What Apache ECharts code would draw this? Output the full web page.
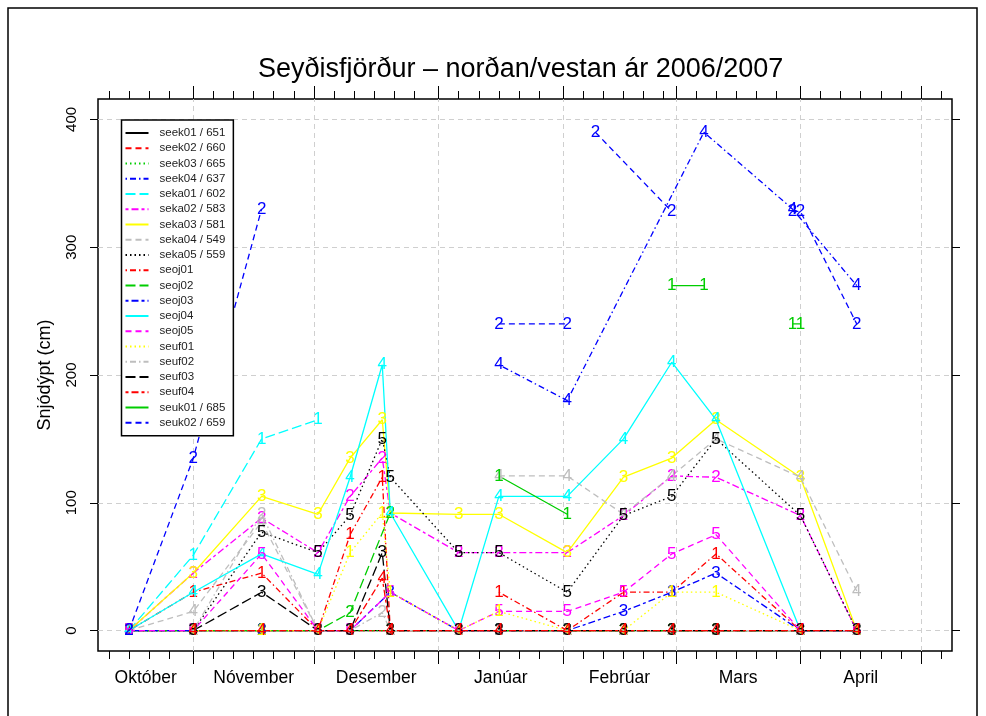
<!DOCTYPE html>
<html><head><meta charset="utf-8">
<script src="https://cdn.jsdelivr.net/npm/echarts@6/dist/echarts.min.js"></script>
<style>html,body{margin:0;padding:0;background:#fff}#c{width:986px;height:716px}</style>
</head><body><div id="c"></div>
<script>
// ---------- data ----------
const titleText = 'Seyðisfjörður – norðan/vestan ár 2006/2007';
const yName = 'Snjódýpt (cm)';
const monthNames = ['Október','Nóvember','Desember','Janúar','Febrúar','Mars','April'];
const monthStarts = ['2006-10-01','2006-11-01','2006-12-01','2007-01-01','2007-02-01','2007-03-01','2007-04-01','2007-05-01','2007-06-01'];
const tickDaysOfMonth = [1,6,11,16,21,26];
const yTicks = [0,100,200,300,400];

const seriesNames = ['seek01 / 651','seek02 / 660','seek03 / 665','seek04 / 637','seka01 / 602','seka02 / 583','seka03 / 581','seka04 / 549','seka05 / 559','seoj01','seoj02','seoj03','seoj04','seoj05','seuf01','seuf02','seuf03','seuf04','seuk01 / 685','seuk02 / 659'];
const pchList = ['1','2','3','4','1','2','3','4','5','1','2','3','4','5','1','2','3','4','1','2'];

const seek01 = [['2006-10-16',0],['2006-11-01',0],['2006-11-18',0],['2006-12-02',0],['2006-12-10',0],['2006-12-20',0],['2007-01-06',0],['2007-01-16',0],['2007-02-02',0],['2007-02-16',0],['2007-02-28',0],['2007-03-11',0],['2007-04-01',0],['2007-04-15',0]];
const seek02 = [['2006-10-16',0],['2006-11-01',0],['2006-11-18',0],['2006-12-02',0],['2006-12-10',0],['2006-12-20',0],['2007-01-06',0],['2007-01-16',0],['2007-02-02',0],['2007-02-16',0],['2007-02-28',0],['2007-03-11',0],['2007-04-01',0],['2007-04-15',0]];
const seek03 = [['2006-10-16',0],['2006-11-01',0],['2006-11-18',0],['2006-12-02',0],['2006-12-10',0],['2006-12-20',0],['2007-01-06',0],['2007-01-16',0],['2007-02-02',0],['2007-02-16',0],['2007-02-28',0],['2007-03-11',0],['2007-04-01',0],['2007-04-15',0]];
const seek04 = [['2007-01-16',208],['2007-02-02',180],['2007-03-08',390],['2007-03-30',330],['2007-04-15',270]];
const seka01 = [['2006-10-16',0],['2006-11-01',59],['2006-11-18',150],['2006-12-02',165]];
const seka02 = [['2006-10-16',0],['2006-11-01',45],['2006-11-18',88],['2006-12-02',61],['2006-12-10',105],['2006-12-18',135],['2006-12-20',92],['2007-01-06',61],['2007-01-16',61],['2007-02-02',61],['2007-02-16',90],['2007-02-28',121],['2007-03-11',120],['2007-04-01',90],['2007-04-15',0]];
const seka03 = [['2006-10-16',0],['2006-11-01',45],['2006-11-18',105],['2006-12-02',91],['2006-12-10',135],['2006-12-18',165],['2006-12-20',92],['2007-01-06',91],['2007-01-16',91],['2007-02-02',61],['2007-02-16',120],['2007-02-28',135],['2007-03-11',165],['2007-04-01',120],['2007-04-15',0]];
const seka04 = [['2006-10-16',0],['2006-11-01',15],['2006-11-18',85],['2006-12-02',0],['2006-12-10',null],['2007-01-16',121],['2007-02-02',121],['2007-02-16',91],['2007-02-28',121],['2007-03-11',150],['2007-04-01',120],['2007-04-15',31]];
const seka05 = [['2006-10-16',0],['2006-11-01',0],['2006-11-18',77],['2006-12-02',61],['2006-12-10',90],['2006-12-18',150],['2006-12-20',120],['2007-01-06',61],['2007-01-16',61],['2007-02-02',30],['2007-02-16',90],['2007-02-28',105],['2007-03-11',150],['2007-04-01',90],['2007-04-15',0]];
const seoj01 = [['2006-10-16',0],['2006-11-01',30],['2006-11-18',45],['2006-12-02',0],['2006-12-10',75],['2006-12-18',120],['2006-12-20',0],['2007-01-06',null],['2007-01-16',30],['2007-02-02',0],['2007-02-16',30],['2007-02-28',30],['2007-03-11',60],['2007-04-01',0],['2007-04-15',0]];
const seoj02 = [['2006-10-16',0],['2006-11-01',0],['2006-11-18',0],['2006-12-02',0],['2006-12-10',14],['2006-12-20',92],['2007-01-06',null],['2007-01-16',0],['2007-02-02',0],['2007-02-16',0],['2007-02-28',0],['2007-03-11',0],['2007-04-01',0],['2007-04-15',0]];
const seoj03 = [['2006-10-16',0],['2006-11-01',0],['2006-11-18',0],['2006-12-02',0],['2006-12-10',0],['2006-12-20',30],['2007-01-06',0],['2007-01-16',0],['2007-02-02',0],['2007-02-16',15],['2007-02-28',30],['2007-03-11',45],['2007-04-01',0],['2007-04-15',0]];
const seoj04 = [['2006-10-16',0],['2006-11-01',30],['2006-11-18',60],['2006-12-02',44],['2006-12-10',120],['2006-12-18',208],['2006-12-20',92],['2007-01-06',0],['2007-01-16',105],['2007-02-02',105],['2007-02-16',150],['2007-02-28',210],['2007-03-11',165],['2007-04-01',0],['2007-04-15',0]];
const seoj05 = [['2006-10-16',0],['2006-11-01',0],['2006-11-18',60],['2006-12-02',0],['2006-12-10',0],['2006-12-20',30],['2007-01-06',0],['2007-01-16',15],['2007-02-02',15],['2007-02-16',30],['2007-02-28',60],['2007-03-11',75],['2007-04-01',0],['2007-04-15',0]];
const seuf01 = [['2006-11-01',0],['2006-11-18',0],['2006-12-02',0],['2006-12-10',61],['2006-12-18',92],['2006-12-20',30],['2007-01-06',0],['2007-01-16',15],['2007-02-02',0],['2007-02-16',0],['2007-02-28',30],['2007-03-11',30],['2007-04-01',0],['2007-04-15',0]];
const seuf02 = [['2006-11-01',0],['2006-11-18',91],['2006-12-02',0],['2006-12-10',0],['2006-12-18',14],['2006-12-20',0],['2007-01-06',0],['2007-01-16',0],['2007-02-02',0],['2007-02-16',0],['2007-02-28',0],['2007-03-11',0],['2007-04-01',0],['2007-04-15',0]];
const seuf03 = [['2006-11-01',0],['2006-11-18',30],['2006-12-02',0],['2006-12-10',0],['2006-12-18',61],['2006-12-20',0],['2007-01-06',0],['2007-01-16',0],['2007-02-02',0],['2007-02-16',0],['2007-02-28',0],['2007-03-11',0],['2007-04-01',0],['2007-04-15',0]];
const seuf04 = [['2006-11-01',0],['2006-11-18',0],['2006-12-02',0],['2006-12-10',0],['2006-12-18',41],['2006-12-20',0],['2007-01-06',0],['2007-01-16',0],['2007-02-02',0],['2007-02-16',0],['2007-02-28',0],['2007-03-11',0],['2007-04-01',0],['2007-04-15',0]];
const seuk01 = [['2007-01-16',121],['2007-02-02',91],['2007-02-16',null],['2007-02-28',270],['2007-03-08',270],['2007-03-11',null],['2007-03-30',240],['2007-04-01',240]];
const seuk02 = [['2006-10-16',0],['2006-11-01',135],['2006-11-18',330],['2006-12-02',null],['2007-01-16',240],['2007-02-02',240],['2007-02-05',null],['2007-02-09',390],['2007-02-28',328],['2007-03-08',null],['2007-03-30',328],['2007-04-01',328],['2007-04-15',240]];

const seriesData = [seek01,seek02,seek03,seek04,seka01,seka02,seka03,seka04,seka05,seoj01,seoj02,seoj03,seoj04,seoj05,seuf01,seuf02,seuf03,seuf04,seuk01,seuk02];

// ---------- styles ----------
const palette = ['#000000','#FF0000','#00CD00','#0000FF','#00FFFF','#FF00FF','#FFFF00','#BEBEBE'];
const ltys = ['solid',[6,4],[1.5,3],[1.5,3,6,3],[10,4],[3,3,7,3]];
const FONT = 'Liberation Sans, Arial, Helvetica, sans-serif';

// ---------- scale helpers ----------
const ORIGIN = Date.parse('2006-10-01T00:00:00Z');
const dayOf = s => Math.round((Date.parse(s + 'T00:00:00Z') - ORIGIN) / 864e5);
const X_MIN = 7.3, X_MAX = 219.7, Y_MIN = -16, Y_MAX = 416;

const startDays = monthStarts.map(dayOf);
const majorTicks = startDays.filter(d => d >= X_MIN && d <= X_MAX);
const minorTicks = [];
startDays.slice(0, -1).forEach(s => tickDaysOfMonth.forEach(dm => {
  const d = s + dm - 1;
  if (d >= X_MIN && d <= X_MAX && dm !== 1) minorTicks.push(d);
}));
const labelPos = monthNames.map((_, i) => (Math.max(startDays[i], X_MIN) + Math.min(startDays[i + 1], X_MAX)) / 2);
const monthFmt = v => {
  let best = 0;
  labelPos.forEach((p, i) => { if (Math.abs(p - v) < Math.abs(labelPos[best] - v)) best = i; });
  return monthNames[best];
};

const gridRect = {left: 98, right: 34, top: 99, bottom: 65};
const tickStyle = {color: '#000', width: 1};

const baseX = (extra) => Object.assign({
  type: 'value', min: X_MIN, max: X_MAX,
  axisLine: {show: false, onZero: false}, splitLine: {show: false}, axisLabel: {show: false}
}, extra);

const series = seriesNames.map((name, i) => {
  const col = palette[i % 8];
  return {
    name, type: 'line', xAxisIndex: 0, yAxisIndex: 0, z: 3,
    data: seriesData[i].map(([d, v]) => [dayOf(d), v]),
    connectNulls: false,
    symbol: 'circle', symbolSize: 1, showSymbol: true, showAllSymbol: true,
    lineStyle: {color: col, width: 1.3, type: ltys[i % 6]},
    itemStyle: {color: 'rgba(0,0,0,0)'},
    label: {show: true, position: 'inside', formatter: pchList[i], color: col, fontSize: 17, fontFamily: FONT},
    emphasis: {disabled: true},
    animation: false
  };
});

series.unshift({
  name: '_grid', type: 'line', xAxisIndex: 0, yAxisIndex: 0, z: 1,
  data: [[X_MIN, null]], symbol: 'none', silent: true,
  markLine: {
    silent: true, symbol: ['none', 'none'], label: {show: false}, animation: false, z: 1,
    lineStyle: {color: '#cfcfcf', type: [5, 4], width: 1},
    emphasis: {disabled: true},
    data: majorTicks.map(d => ({xAxis: d})).concat(yTicks.map(v => ({yAxis: v})))
  }
});

const option = {
  animation: false,
  backgroundColor: '#fff',
  title: {
    text: titleText, left: 258, top: 56, padding: 0,
    textStyle: {fontSize: 27, fontWeight: 'normal', color: '#000', fontFamily: FONT}
  },
  grid: [
    Object.assign({show: true, borderColor: '#000', borderWidth: 1.5, backgroundColor: 'transparent'}, gridRect),
    Object.assign({show: false}, gridRect)
  ],
  xAxis: [
    baseX({gridIndex: 0, position: 'bottom',
      axisTick: {show: true, customValues: minorTicks, length: 8, lineStyle: tickStyle},
      axisLabel: {show: true, customValues: labelPos, formatter: monthFmt, margin: 18, fontSize: 17.5, color: '#000', fontFamily: FONT}}),
    baseX({gridIndex: 0, position: 'top',
      axisTick: {show: true, customValues: minorTicks, length: 8, lineStyle: tickStyle}}),
    baseX({gridIndex: 1, position: 'bottom',
      axisTick: {show: true, customValues: majorTicks, length: 13, lineStyle: tickStyle}}),
    baseX({gridIndex: 1, position: 'top',
      axisTick: {show: true, customValues: majorTicks, length: 13, lineStyle: tickStyle}})
  ],
  yAxis: [
    {gridIndex: 0, type: 'value', min: Y_MIN, max: Y_MAX, position: 'left',
      axisLine: {show: false, onZero: false}, splitLine: {show: false},
      axisTick: {show: true, customValues: yTicks, length: 8, lineStyle: tickStyle},
      axisLabel: {show: true, customValues: yTicks, rotate: 90, margin: 19, fontSize: 15, color: '#000', fontFamily: FONT},
      name: yName, nameLocation: 'middle', nameGap: 44, nameRotate: 90,
      nameTextStyle: {fontSize: 18, color: '#000', fontFamily: FONT}},
    {gridIndex: 0, type: 'value', min: Y_MIN, max: Y_MAX, position: 'right',
      axisLine: {show: false, onZero: false}, splitLine: {show: false}, axisLabel: {show: false},
      axisTick: {show: true, customValues: yTicks, length: 8, lineStyle: tickStyle}},
    {gridIndex: 1, type: 'value', min: Y_MIN, max: Y_MAX, show: false}
  ],
  legend: {
    data: seriesNames, orient: 'vertical', left: 121.5, top: 120,
    padding: [7, 8, 7, 3], itemWidth: 23, itemHeight: 12, itemGap: 3.25,
    backgroundColor: '#fff', borderColor: '#000', borderWidth: 1.5,
    selectedMode: false, z: 10,
    textStyle: {fontSize: 11.5, color: '#222', fontFamily: FONT, lineHeight: 12, padding: [0, 0, 0, 6]}
  },
  graphic: [{
    type: 'rect', silent: true, z: -10,
    shape: {x: 8, y: 8, width: 969, height: 720},
    style: {fill: 'none', stroke: '#000', lineWidth: 1.5}
  }],
  series
};

const chart = echarts.init(document.getElementById('c'), null, {renderer: 'canvas'});
chart.setOption(option);
</script>
</body></html>
